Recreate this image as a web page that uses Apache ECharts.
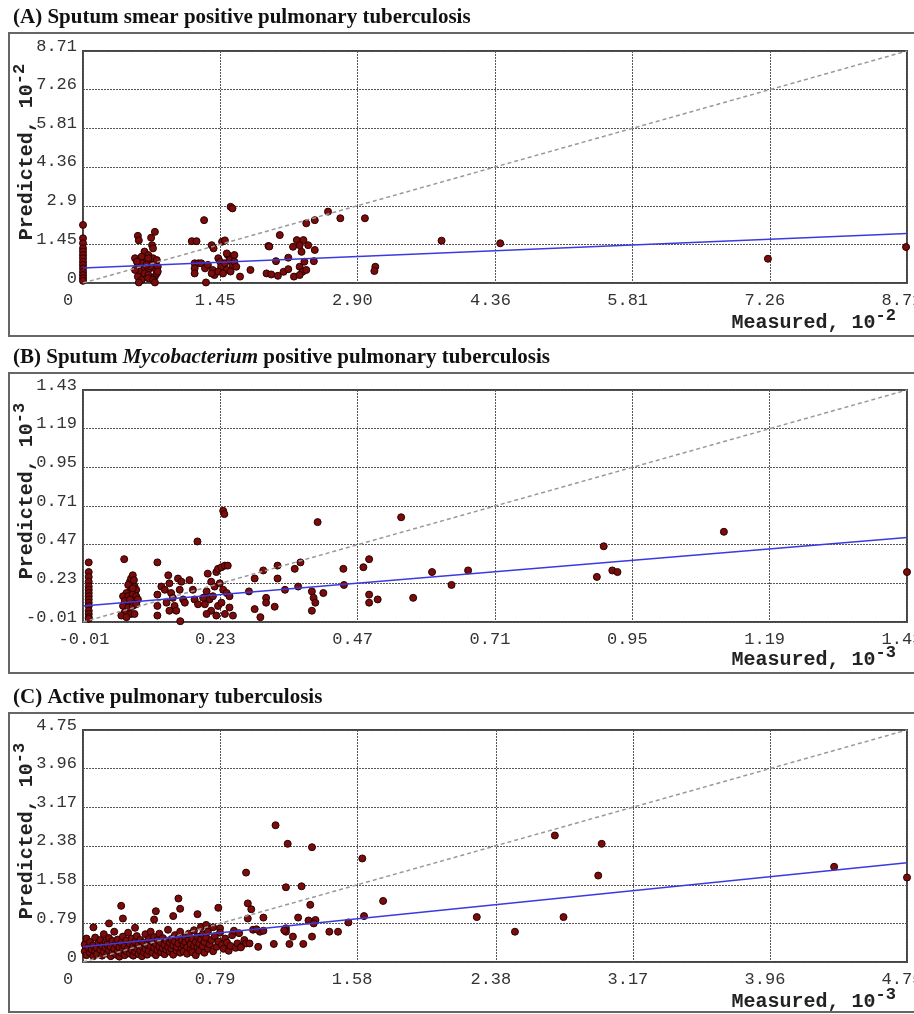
<!DOCTYPE html>
<html>
<head>
<meta charset="utf-8">
<title>Measured vs predicted tuberculosis</title>
<script src="https://cdn.jsdelivr.net/npm/echarts@6.0.0/dist/echarts.min.js"></script>
<style>
    html, body { margin: 0; padding: 0; background: #fff; }
    #chart { width: 914px; height: 1014px; }
</style>
</head>
<body>
<div id="chart"></div>
<script>
// 面板标题
const titleA = '(A) Sputum smear positive pulmonary tuberculosis';
const titleB = '(B) Sputum {i|Mycobacterium} positive pulmonary tuberculosis';
const titleC = '(C) Active pulmonary tuberculosis';

// 刻度值与刻度文字
const ticksA = [0, 1.45, 2.90, 4.36, 5.81, 7.26, 8.71];
const xLabelsA = ['0', '1.45', '2.90', '4.36', '5.81', '7.26', '8.71'];
const yLabelsA = ['0', '1.45', '2.9', '4.36', '5.81', '7.26', '8.71'];
const ticksB = [-0.01, 0.23, 0.47, 0.71, 0.95, 1.19, 1.43];
const xLabelsB = ['-0.01', '0.23', '0.47', '0.71', '0.95', '1.19', '1.43'];
const yLabelsB = ['-0.01', '0.23', '0.47', '0.71', '0.95', '1.19', '1.43'];
const ticksC = [0, 0.79, 1.58, 2.38, 3.17, 3.96, 4.75];
const xLabelsC = ['0', '0.79', '1.58', '2.38', '3.17', '3.96', '4.75'];
const yLabelsC = ['0', '0.79', '1.58', '2.38', '3.17', '3.96', '4.75'];

// 单位 (10 的幂)
const unitA = '-2';
const unitB = '-3';
const unitC = '-3';

// (A) 实测值, 预测值
const pointsA = [
    [0, 2.18], [0, 1.68], [0, 1.49], [0, 1.30], [0, 1.18], [0, 1.05], [0, 0.93], [0, 0.80], [0, 0.68], [0, 0.55],
    [0, 0.42], [0, 0.30], [0, 0.18], [0, 0.08],
    [0.58, 1.77], [0.59, 1.60], [0.72, 1.70], [0.76, 1.92], [0.73, 1.42], [0.74, 1.30], [0.65, 1.18], [0.69, 1.05],
    [0.55, 0.93], [0.60, 0.86], [0.65, 0.80], [0.69, 0.74], [0.72, 0.68], [0.74, 0.93], [0.78, 0.86], [0.58, 0.68],
    [0.63, 0.61], [0.65, 0.55], [0.69, 0.49], [0.76, 0.55], [0.79, 0.61], [0.60, 0.43], [0.65, 0.36], [0.69, 0.30],
    [0.76, 0.24], [0.58, 0.24], [0.62, 0.11], [0.69, 0.18], [0.74, 0.11], [0.78, 0.36], [0.55, 0.49], [0.62, 0.99],
    [0.69, 0.93], [0.79, 0.43], [0.59, 0.02], [0.76, 0.02], [0.62, 0.74], [0.71, 0.62], [0.67, 0.68], [0.57, 0.80],
    [1.15, 1.57], [1.20, 1.57], [1.28, 2.36], [1.56, 2.86], [1.58, 2.80], [1.36, 1.42], [1.38, 1.30], [1.47, 1.55],
    [1.50, 1.60], [1.18, 0.74], [1.22, 0.74], [1.25, 0.74], [1.18, 0.55], [1.18, 0.36], [1.29, 0.55], [1.32, 0.68],
    [1.37, 0.49], [1.39, 0.30], [1.43, 0.93], [1.45, 0.80], [1.46, 0.61], [1.50, 0.74], [1.52, 0.49], [1.53, 1.05],
    [1.55, 0.86], [1.58, 0.68], [1.60, 1.05], [1.60, 0.80], [1.62, 0.61], [1.56, 0.43], [1.66, 0.24], [1.36, 0.36],
    [1.43, 0.43], [1.48, 0.36], [1.52, 1.11], [1.30, 0.02],
    [1.77, 0.49], [1.96, 1.39], [1.97, 1.37], [2.08, 1.80], [2.04, 0.82], [2.17, 0.95], [1.94, 0.36], [1.99, 0.32],
    [2.06, 0.27], [2.12, 0.42], [2.17, 0.52], [2.23, 0.24], [2.29, 0.61], [2.32, 0.42], [2.36, 0.49], [2.34, 0.80],
    [2.29, 0.30], [2.26, 1.61], [2.33, 1.61], [2.22, 1.36], [2.29, 1.42], [2.38, 1.42], [2.31, 1.17], [2.45, 1.24],
    [2.44, 0.82], [2.36, 2.24], [2.45, 2.36], [2.59, 2.68], [2.72, 2.43], [2.98, 2.43], [3.09, 0.61], [3.08, 0.45],
    [3.79, 1.59], [4.41, 1.49], [7.24, 0.91], [8.70, 1.35]
];

// (B) 实测值, 预测值
const pointsB = [
    [0, 0.36], [0, 0.30], [0, 0.27], [0, 0.24], [0, 0.21], [0, 0.19], [0, 0.17], [0, 0.15], [0, 0.13], [0, 0.11],
    [0, 0.09], [0, 0.06], [0, 0.04], [0, 0.02], [0, 0.01],
    [0.062, 0.38], [0.072, 0.24], [0.074, 0.26], [0.077, 0.28], [0.079, 0.25], [0.069, 0.22], [0.080, 0.21],
    [0.083, 0.19], [0.074, 0.19], [0.066, 0.17], [0.060, 0.15], [0.069, 0.15], [0.077, 0.16], [0.083, 0.15],
    [0.063, 0.12], [0.072, 0.11], [0.080, 0.12], [0.086, 0.13], [0.060, 0.09], [0.069, 0.08], [0.077, 0.09],
    [0.083, 0.10], [0.063, 0.05], [0.074, 0.04], [0.057, 0.03], [0.080, 0.04], [0.066, 0.02], [0.072, 0.13],
    [0.077, 0.20],
    [0.12, 0.36], [0.12, 0.16], [0.12, 0.09], [0.12, 0.03], [0.127, 0.21], [0.133, 0.19], [0.139, 0.28],
    [0.141, 0.23], [0.144, 0.17], [0.147, 0.14], [0.136, 0.11], [0.150, 0.09], [0.156, 0.26], [0.159, 0.19],
    [0.162, 0.24], [0.165, 0.13], [0.153, 0.06], [0.141, 0.06], [0.168, 0.11], [0.176, 0.25], [0.182, 0.19],
    [0.16, -0.005],
    [0.19, 0.49], [0.235, 0.68], [0.237, 0.66],
    [0.208, 0.29], [0.223, 0.30], [0.226, 0.32], [0.232, 0.33], [0.238, 0.34], [0.243, 0.34], [0.214, 0.24],
    [0.220, 0.21], [0.229, 0.23], [0.235, 0.19], [0.241, 0.17], [0.246, 0.15], [0.206, 0.18], [0.211, 0.13],
    [0.203, 0.10], [0.214, 0.06], [0.226, 0.09], [0.232, 0.11], [0.238, 0.04], [0.223, 0.03], [0.206, 0.04],
    [0.246, 0.08], [0.252, 0.03], [0.217, 0.15], [0.200, 0.14], [0.185, 0.13], [0.191, 0.10],
    [0.28, 0.18], [0.29, 0.07], [0.30, 0.02], [0.29, 0.26], [0.305, 0.31], [0.31, 0.14], [0.31, 0.11],
    [0.33, 0.34], [0.33, 0.26], [0.325, 0.085], [0.343, 0.19], [0.36, 0.32], [0.37, 0.36], [0.366, 0.21],
    [0.39, 0.18], [0.393, 0.14], [0.396, 0.11], [0.39, 0.06], [0.40, 0.61], [0.41, 0.17], [0.445, 0.32],
    [0.446, 0.22], [0.48, 0.33], [0.49, 0.38], [0.49, 0.16], [0.49, 0.11], [0.505, 0.13], [0.546, 0.64],
    [0.567, 0.14], [0.60, 0.30], [0.634, 0.22], [0.663, 0.31],
    [0.90, 0.46], [0.888, 0.27], [0.915, 0.31], [0.924, 0.30], [1.11, 0.55], [1.43, 0.30]
];

// (C) 实测值, 预测值
const pointsC = [
    [0.01, 0.36], [0.01, 0.22], [0.02, 0.48], [0.02, 0.14], [0.03, 0.30], [0.04, 0.41], [0.04, 0.19], [0.05, 0.26],
    [0.06, 0.12], [0.06, 0.34], [0.07, 0.50], [0.07, 0.22], [0.08, 0.29], [0.08, 0.16], [0.09, 0.39], [0.10, 0.25],
    [0.10, 0.45], [0.11, 0.13], [0.11, 0.33], [0.12, 0.21], [0.12, 0.57], [0.13, 0.29], [0.13, 0.41], [0.14, 0.17],
    [0.14, 0.36], [0.15, 0.24], [0.15, 0.49], [0.16, 0.12], [0.16, 0.31], [0.17, 0.20], [0.17, 0.43], [0.18, 0.27],
    [0.18, 0.62], [0.19, 0.15], [0.19, 0.37], [0.20, 0.23], [0.20, 0.46], [0.21, 0.30], [0.21, 0.11], [0.22, 0.39],
    [0.22, 0.19], [0.23, 0.52], [0.23, 0.26], [0.24, 0.33], [0.24, 0.14], [0.25, 0.44], [0.25, 0.22], [0.26, 0.29],
    [0.26, 0.60], [0.27, 0.17], [0.27, 0.37], [0.28, 0.25], [0.28, 0.48], [0.29, 0.32], [0.29, 0.13], [0.30, 0.41],
    [0.30, 0.21], [0.30, 0.70], [0.31, 0.28], [0.31, 0.53], [0.32, 0.16], [0.32, 0.36], [0.33, 0.24], [0.33, 0.45],
    [0.34, 0.31], [0.34, 0.12], [0.35, 0.40], [0.35, 0.20], [0.36, 0.57], [0.36, 0.27], [0.37, 0.35], [0.37, 0.15],
    [0.38, 0.47], [0.38, 0.23], [0.39, 0.33], [0.39, 0.62], [0.40, 0.19], [0.40, 0.42], [0.41, 0.29], [0.41, 0.51],
    [0.42, 0.14], [0.42, 0.37], [0.43, 0.24], [0.43, 0.45], [0.44, 0.32], [0.44, 0.58], [0.45, 0.20], [0.45, 0.40],
    [0.46, 0.28], [0.46, 0.49], [0.47, 0.16], [0.47, 0.35], [0.48, 0.25], [0.48, 0.44], [0.49, 0.31], [0.49, 0.66],
    [0.50, 0.21], [0.50, 0.39], [0.51, 0.47], [0.51, 0.27], [0.52, 0.34], [0.52, 0.15], [0.53, 0.42], [0.53, 0.55],
    [0.54, 0.23], [0.54, 0.31], [0.55, 0.49], [0.55, 0.38], [0.56, 0.19], [0.56, 0.62], [0.57, 0.28], [0.57, 0.44],
    [0.58, 0.35], [0.58, 0.22], [0.59, 0.51], [0.59, 0.40], [0.60, 0.30], [0.60, 0.17], [0.61, 0.45], [0.61, 0.58],
    [0.62, 0.26], [0.62, 0.37], [0.63, 0.48], [0.63, 0.20], [0.64, 0.33], [0.64, 0.65], [0.65, 0.41], [0.65, 0.14],
    [0.66, 0.29], [0.66, 0.52], [0.67, 0.38], [0.67, 0.23], [0.68, 0.46], [0.68, 0.72], [0.69, 0.32], [0.69, 0.57],
    [0.70, 0.41], [0.70, 0.19], [0.71, 0.76], [0.71, 0.50], [0.72, 0.27], [0.72, 0.62], [0.73, 0.36], [0.74, 0.45],
    [0.75, 0.71], [0.75, 0.22], [0.76, 0.53], [0.77, 0.31], [0.78, 0.42], [0.79, 0.69], [0.79, 0.60], [0.80, 0.35],
    [0.81, 0.27], [0.82, 0.48], [0.83, 0.40], [0.84, 0.23], [0.85, 0.33], [0.86, 0.55], [0.87, 0.64], [0.88, 0.29],
    [0.89, 0.38], [0.90, 0.59], [0.91, 0.31], [0.93, 0.45],
    [0.06, 0.71], [0.22, 1.15], [0.23, 0.89], [0.15, 0.79], [0.42, 1.04], [0.41, 0.87], [0.55, 1.30], [0.56, 1.09],
    [0.52, 0.94], [0.66, 0.98], [0.78, 1.11], [0.94, 1.83], [0.95, 1.20], [0.97, 1.08], [0.95, 0.89],
    [1.04, 0.91], [1.11, 2.80], [1.18, 2.42], [1.32, 2.35], [1.17, 1.53], [1.26, 1.55], [1.31, 1.17], [1.24, 0.91],
    [1.30, 0.85], [1.34, 0.86], [1.33, 0.79], [1.17, 0.69], [1.17, 0.62], [1.16, 0.65], [1.21, 0.52], [1.32, 0.52],
    [1.27, 0.37], [1.19, 0.37], [1.10, 0.37], [1.01, 0.31], [0.98, 0.66], [1.02, 0.62], [1.04, 0.64], [1.00, 0.67],
    [1.42, 0.62], [1.47, 0.62], [1.53, 0.81], [1.61, 2.12], [1.62, 0.94], [1.73, 1.25], [0.91, 0.30], [0.94, 0.38],
    [0.96, 0.38],
    [2.27, 0.92], [2.49, 0.62], [2.72, 2.59], [2.77, 0.92], [2.97, 1.77], [2.99, 2.42], [4.33, 1.95], [4.75, 1.73]
];

// 回归线端点
const fitA = [[0, 0.56], [8.71, 1.86]];
const fitB = [[-0.01, 0.09], [1.43, 0.515]];
const fitC = [[0, 0.31], [4.75, 2.03]];

const MONO = '"Liberation Mono", "DejaVu Sans Mono", monospace';
const SERIF = '"Liberation Serif", "DejaVu Serif", serif';

// 每个面板的位置
const panels = [
    {title: titleA, ticks: ticksA, xLabels: xLabelsA, yLabels: yLabelsA, unit: unitA, points: pointsA, fit: fitA,
        gridTop: 51, frameTop: 33, frameBottom: 336, firstPad: [0, 20, 0, 0]},
    {title: titleB, ticks: ticksB, xLabels: xLabelsB, yLabels: yLabelsB, unit: unitB, points: pointsB, fit: fitB,
        gridTop: 390, frameTop: 373, frameBottom: 673, firstPad: [0, 0, 0, 12]},
    {title: titleC, ticks: ticksC, xLabels: xLabelsC, yLabels: yLabelsC, unit: unitC, points: pointsC, fit: fitC,
        gridTop: 730, frameTop: 713, frameBottom: 1012, firstPad: [0, 20, 0, 0]}
];

// 刻度文字
function tickFormatter(ticks, labels, wrapFirst) {
    return function (value) {
        let i = ticks.findIndex(t => Math.abs(t - value) < 1e-9);
        if (i < 0) return '';
        return (i === 0 && wrapFirst) ? '{f|' + labels[i] + '}' : labels[i];
    };
}

function unitName(label, unit) {
    return label + ', 10{s|' + unit + '}';
}

const nameStyle = {
    fontFamily: MONO,
    fontWeight: 'bold',
    fontSize: 20,
    color: '#222'
};
const supStyle = {fontFamily: MONO, fontWeight: 'bold', fontSize: 17, color: '#222', padding: [0, 0, 14, 0]};

let option = {
    animation: false,
    backgroundColor: '#fff',
    title: [],
    grid: [],
    xAxis: [],
    yAxis: [],
    series: [],
    graphic: []
};

panels.forEach((p, i) => {
    let min = p.ticks[0];
    let max = p.ticks[p.ticks.length - 1];

    option.title.push({
        text: p.title,
        left: 13,
        top: p.frameTop - 26,
        padding: 0,
        textStyle: {
            fontFamily: SERIF, fontWeight: 'bold', fontSize: 21, color: '#111',
            rich: {i: {fontFamily: SERIF, fontWeight: 'bold', fontStyle: 'italic', fontSize: 21, color: '#111'}}
        }
    });

    option.graphic.push({
        type: 'rect',
        silent: true,
        shape: {x: 9, y: p.frameTop, width: 930, height: p.frameBottom - p.frameTop},
        style: {fill: 'none', stroke: '#666', lineWidth: 2}
    });

    option.grid.push({
        left: 83, top: p.gridTop, width: 824, height: 232,
        containLabel: false, outerBoundsMode: 'none',
        show: true, borderColor: '#444', borderWidth: 2, backgroundColor: '#fff'
    });

    option.xAxis.push({
        type: 'value', gridIndex: i, min: min, max: max,
        axisLine: {show: false},
        axisTick: {show: false, customValues: p.ticks},
        splitLine: {show: true, lineStyle: {color: '#555', width: 1, type: [2, 1]}},
        axisLabel: {
            customValues: p.ticks,
            formatter: tickFormatter(p.ticks, p.xLabels, true),
            margin: 9, fontFamily: MONO, fontSize: 17, color: '#333',
            padding: [0, 10, 0, 0],
            rich: {f: {fontFamily: MONO, fontSize: 17, color: '#333', padding: p.firstPad}}
        },
        name: unitName('Measured', p.unit),
        nameLocation: 'end',
        nameGap: -11,
        nameMoveOverlap: false,
        nameTextStyle: Object.assign({}, nameStyle, {
            align: 'right', verticalAlign: 'top', padding: [24, 0, 0, 0], rich: {s: supStyle}
        })
    });

    option.yAxis.push({
        type: 'value', gridIndex: i, min: min, max: max,
        axisLine: {show: false},
        axisTick: {show: false, customValues: p.ticks},
        splitLine: {show: true, lineStyle: {color: '#555', width: 1, type: [2, 1]}},
        axisLabel: {
            customValues: p.ticks,
            formatter: tickFormatter(p.ticks, p.yLabels, false),
            margin: 6, fontFamily: MONO, fontSize: 17, color: '#333',
            verticalAlign: 'bottom', lineHeight: 10
        },
        name: unitName('Predicted', p.unit),
        nameLocation: 'middle',
        nameRotate: 90,
        nameGap: 41,
        nameMoveOverlap: false,
        nameTextStyle: Object.assign({}, nameStyle, {padding: [0, 0, 0, 30], rich: {s: supStyle}})
    });

    // 对角线 y = x
    option.series.push({
        type: 'line', xAxisIndex: i, yAxisIndex: i,
        data: [[min, min], [max, max]],
        symbol: 'none', silent: true,
        lineStyle: {color: '#999', width: 1.5, type: [4, 3]}
    });

    // 回归线
    option.series.push({
        type: 'line', xAxisIndex: i, yAxisIndex: i,
        data: p.fit,
        symbol: 'none', silent: true,
        lineStyle: {color: '#3a3ae0', width: 1.5}
    });

    // 散点
    option.series.push({
        type: 'scatter', xAxisIndex: i, yAxisIndex: i,
        data: p.points,
        symbolSize: 7,
        itemStyle: {color: '#7a0c0c', borderColor: '#2a0000', borderWidth: 1, opacity: 1}
    });
});

let chart = echarts.init(document.getElementById('chart'));
chart.setOption(option);

window.onresize = function () {
    chart.resize();
};
</script>
</body>
</html>
